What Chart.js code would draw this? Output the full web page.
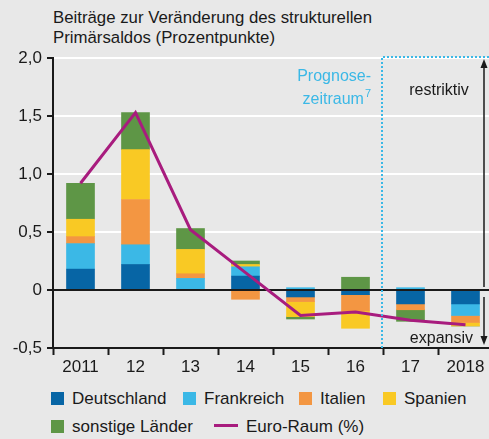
<!DOCTYPE html>
<html lang="de">
<head>
<meta charset="utf-8">
<script src="https://cdn.jsdelivr.net/npm/chart.js@4.4.1/dist/chart.umd.min.js"></script>
<style>
  html, body { margin: 0; padding: 0; background: #e8e8e8; overflow: hidden; }
  body { width: 489px; height: 439px; position: relative; font-family: "Liberation Sans", Arial, sans-serif; color: #1a1a1a; }
  #title { position: absolute; left: 53px; top: 8px; font-size: 16.8px; line-height: 20px; }
  #chartBox { position: absolute; left: 0; top: 0; }
  .lg { position: absolute; font-size: 17px; line-height: 20px; white-space: nowrap; }
  .lg .sw { display: inline-block; width: 13px; height: 13px; vertical-align: -1px; margin-right: 8px; }
  .lg .ln { display: inline-block; width: 24px; height: 3px; vertical-align: 5px; margin-right: 8px; }
</style>
</head>
<body>
<div id="title">Beiträge zur Veränderung des strukturellen<br>Primärsaldos (Prozentpunkte)</div>
<div id="chartBox"><canvas id="c" width="494" height="378"></canvas></div>
<div id="legend"></div>
<script>
// Daten
const categories = ["2011", "12", "13", "14", "15", "16", "17", "2018"];
const deutschland = [0.18, 0.22, 0.00, 0.12, -0.06, -0.04, -0.12, -0.12];
const frankreich  = [0.22, 0.17, 0.10, 0.08,  0.02,  0.00,  0.02, -0.10];
const italien     = [0.06, 0.39, 0.04, -0.08, -0.04, -0.14, -0.05, -0.06];
const spanien     = [0.15, 0.43, 0.21, 0.02, -0.13, -0.15,  0.00, -0.03];
const sonstige    = [0.31, 0.32, 0.18, 0.03, -0.02,  0.11, -0.10,  0.00];
const euroRaum    = [0.92, 1.53, 0.52, 0.15, -0.22, -0.19, -0.26, -0.30];
const yTicks = [-0.5, 0, 0.5, 1.0, 1.5, 2.0];
const forecastStart = 6; // Index der ersten Prognose-Kategorie

const colors = {
  deutschland: "#0765a5",
  frankreich: "#3bb8e6",
  italien: "#f39642",
  spanien: "#f9c924",
  sonstige: "#5e9646",
  euro: "#a81c7e",
  prognose: "#3bb8e6"
};

const bar = (label, data, color) => ({
  type: "bar", label, data, backgroundColor: color,
  stack: "laender", order: 1, barThickness: 28
});

const datasets = [
  {
    type: "line", label: "Euro-Raum (%)", data: euroRaum,
    borderColor: colors.euro, borderWidth: 3, pointRadius: 0,
    tension: 0, stack: "euro", order: 0, borderJoinStyle: "miter"
  },
  bar("Deutschland", deutschland, colors.deutschland),
  bar("Frankreich", frankreich, colors.frankreich),
  bar("Italien", italien, colors.italien),
  bar("Spanien", spanien, colors.spanien),
  bar("sonstige Länder", sonstige, colors.sonstige)
];

// Nulllinie über den Balken, aber unter der Linie
const zeroLine = {
  id: "zeroLine",
  beforeDatasetDraw(chart, args) {
    if (args.index !== 0) return;
    const { ctx, chartArea, scales: { y } } = chart;
    const py = Math.round(y.getPixelForValue(0));
    ctx.save();
    ctx.strokeStyle = "#1a1a1a";
    ctx.lineWidth = 2;
    ctx.beginPath();
    ctx.moveTo(chartArea.left, py);
    ctx.lineTo(chartArea.right, py);
    ctx.stroke();
    ctx.restore();
  }
};

// Prognosezeitraum und Beschriftungen
const annotations = {
  id: "annotations",
  afterDatasetsDraw(chart) {
    const { ctx, chartArea, scales: { x, y } } = chart;
    const x0 = Math.round((x.getPixelForValue(forecastStart - 1) + x.getPixelForValue(forecastStart)) / 2) - 1;
    const yTop = Math.round(y.getPixelForValue(2)) - 1;
    ctx.save();
    ctx.strokeStyle = colors.prognose;
    ctx.lineWidth = 2;
    ctx.setLineDash([2, 2]);
    ctx.beginPath();
    ctx.moveTo(x0, chartArea.bottom);
    ctx.lineTo(x0, yTop);
    ctx.lineTo(chartArea.right + 5, yTop);
    ctx.stroke();
    ctx.setLineDash([]);

    ctx.fillStyle = colors.prognose;
    ctx.font = '16px "Liberation Sans", Arial, sans-serif';
    ctx.textAlign = "right";
    ctx.textBaseline = "alphabetic";
    ctx.fillText("Prognose-", x0 - 11, 81);
    ctx.font = '11px "Liberation Sans", Arial, sans-serif';
    ctx.fillText("7", x0 - 11, 97);
    const w7 = ctx.measureText("7").width;
    ctx.font = '16px "Liberation Sans", Arial, sans-serif';
    ctx.fillText("zeitraum", x0 - 12 - w7, 104);

    ctx.fillStyle = "#1a1a1a";
    ctx.textAlign = "center";
    ctx.fillText("restriktiv", 439, 95);
    ctx.textAlign = "right";
    ctx.fillText("expansiv", 473, 343);

    // Pfeile
    const ax = 484;
    const zero = y.getPixelForValue(0);
    ctx.strokeStyle = "#1a1a1a";
    ctx.lineWidth = 1.5;
    ctx.beginPath();
    ctx.moveTo(ax, zero - 3);
    ctx.lineTo(ax, 66);
    ctx.moveTo(ax, zero + 7);
    ctx.lineTo(ax, 337);
    ctx.stroke();
    ctx.beginPath();
    ctx.moveTo(ax, 59);
    ctx.lineTo(ax - 3.5, 68);
    ctx.lineTo(ax + 3.5, 68);
    ctx.closePath();
    ctx.fill();
    ctx.beginPath();
    ctx.moveTo(ax, 345);
    ctx.lineTo(ax - 3.5, 336);
    ctx.lineTo(ax + 3.5, 336);
    ctx.closePath();
    ctx.fill();
    ctx.restore();
  }
};

new Chart(document.getElementById("c"), {
  data: { labels: categories, datasets },
  options: {
    responsive: false,
    animation: false,
    devicePixelRatio: 1,
    layout: { padding: { top: 58, right: 1, left: 0, bottom: 0 } },
    plugins: { legend: { display: false }, tooltip: { enabled: false } },
    scales: {
      x: {
        stacked: true,
        afterFit: s => { s.height = 30; },
        grid: { offset: true, drawOnChartArea: false, drawTicks: true, tickLength: 7, tickColor: "#1a1a1a", tickWidth: 2 },
        border: { display: true, color: "#1a1a1a", width: 2 },
        ticks: { color: "#1a1a1a", padding: 2, font: { family: '"Liberation Sans", Arial, sans-serif', size: 17 }, maxRotation: 0, autoSkip: false }
      },
      y: {
        stacked: true,
        min: yTicks[0],
        max: yTicks[yTicks.length - 1],
        afterFit: s => { s.width = 53; },
        afterBuildTicks: s => { s.ticks = yTicks.map(v => ({ value: v })); },
        grid: {
          color: ctx => (ctx.tick && ctx.tick.value > 0) ? "#ffffff" : "rgba(0,0,0,0)",
          lineWidth: 2,
          tickColor: "#1a1a1a",
          tickLength: 6,
          tickWidth: 2
        },
        border: { display: true, color: "#1a1a1a", width: 2 },
        ticks: {
          color: "#1a1a1a",
          padding: 5,
          font: { family: '"Liberation Sans", Arial, sans-serif', size: 17 },
          callback: v => v === 0 ? "0" : v.toFixed(1).replace(".", ",")
        }
      }
    }
  },
  plugins: [zeroLine, annotations]
});

// Legende
const legendItems = [
  { label: "Deutschland", color: colors.deutschland, kind: "sw", left: 51, top: 389 },
  { label: "Frankreich", color: colors.frankreich, kind: "sw", left: 183, top: 389 },
  { label: "Italien", color: colors.italien, kind: "sw", left: 299, top: 389 },
  { label: "Spanien", color: colors.spanien, kind: "sw", left: 383, top: 389 },
  { label: "sonstige Länder", color: colors.sonstige, kind: "sw", left: 51, top: 417 },
  { label: "Euro-Raum (%)", color: colors.euro, kind: "ln", left: 214, top: 417 }
];
const lg = document.getElementById("legend");
legendItems.forEach(it => {
  const d = document.createElement("div");
  d.className = "lg";
  d.style.left = it.left + "px";
  d.style.top = it.top + "px";
  const m = document.createElement("span");
  m.className = it.kind;
  m.style.background = it.color;
  d.appendChild(m);
  d.appendChild(document.createTextNode(it.label));
  lg.appendChild(d);
});
</script>
</body>
</html>
